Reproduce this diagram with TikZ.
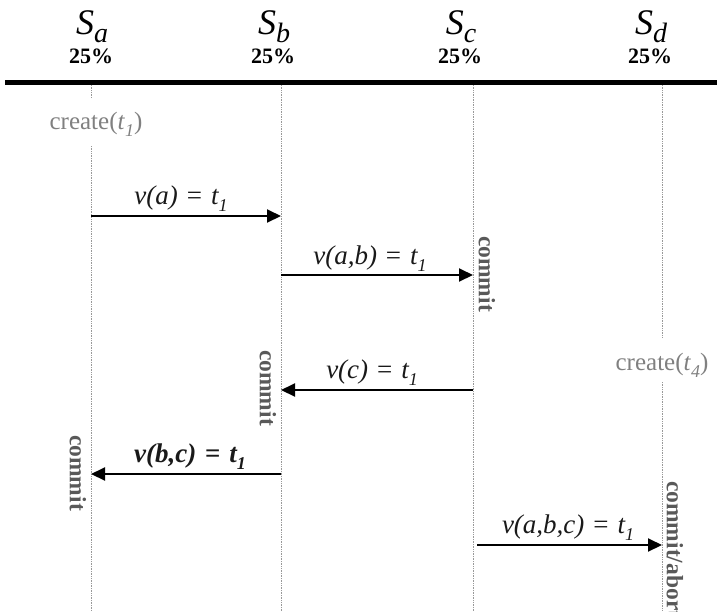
\documentclass[tikz,border=0pt]{standalone}
\usepackage{fontspec}
\setmainfont{Liberation Serif}
\usetikzlibrary{arrows.meta}
\newcommand{\tsub}[1]{\raisebox{-7pt}{\fontsize{18}{18}\selectfont\itshape #1}}
\newcommand{\hsub}[1]{\raisebox{-8pt}{\fontsize{28}{28}\selectfont\itshape #1}}
\newcommand{\eqs}{\hspace{0.33em}\textup{=}\hspace{0.33em}}
\begin{document}
\begin{tikzpicture}[x=1pt,y=-1pt,
  lifeline/.style={draw=gray!80, densely dotted, line width=0.7pt},
  msg/.style={draw=black, line width=2pt, -{Triangle[length=14pt,width=13pt]}},
  lbl/.style={font=\fontsize{27}{27}\selectfont\itshape, text=black!90, inner sep=0pt, anchor=base},
  hdr/.style={font=\fontsize{36}{36}\selectfont\itshape, inner sep=0pt, anchor=base},
  pct/.style={font=\fontsize{22}{22}\selectfont\bfseries, inner sep=0pt, anchor=base},
  crt/.style={font=\fontsize{25}{25}\selectfont, text=black!50, inner sep=0pt, anchor=base},
  cmt/.style={font=\fontsize{23.5}{23.5}\selectfont\bfseries, text=black!65, inner sep=0pt, rotate=-90}
]
\useasboundingbox (0,0) rectangle (717,611);

% headers
\node[hdr] (Ha) at (92,34) {S\hsub{a}};
\node[hdr] (Hb) at (274,34) {S\hsub{b}};
\node[hdr] (Hc) at (461,34) {S\hsub{c}};
\node[hdr] (Hd) at (651,34) {S\hsub{d}};
\node[pct] (Pa) at (91,63) {25\%};
\node[pct] (Pb) at (273,63) {25\%};
\node[pct] (Pc) at (460,63) {25\%};
\node[pct] (Pd) at (650,63) {25\%};

% heavy rule
\coordinate (RL) at (5,82);
\coordinate (RR) at (717,82);
\draw[line width=5pt] (RL) -- (RR);

% create labels
\node[crt] (Ca) at (96,129) {create(\textit{t}\tsub{1})};
\node[crt] (Cd) at (662,370) {create(\textit{t}\tsub{4})};

% lifelines
\coordinate (a0) at (91,85);  \coordinate (a1) at (91,98);
\coordinate (a2) at (91,146); \coordinate (aE) at (91,611);
\coordinate (b0) at (281,85); \coordinate (bE) at (281,611);
\coordinate (c0) at (473,85); \coordinate (cE) at (473,611);
\coordinate (d0) at (662,85); \coordinate (d1) at (662,338);
\coordinate (d2) at (662,382); \coordinate (dE) at (662,611);
\draw[lifeline] (a0) -- (a1);
\draw[lifeline] (a2) -- (aE);
\draw[lifeline] (b0) -- (bE);
\draw[lifeline] (c0) -- (cE);
\draw[lifeline] (d0) -- (d1);
\draw[lifeline] (d2) -- (dE);

% message endpoints
\coordinate (m1s) at (91,216);  \coordinate (m1e) at (281,216);
\coordinate (m2s) at (281,275); \coordinate (m2e) at (473,275);
\coordinate (m3s) at (473,390); \coordinate (m3e) at (281,390);
\coordinate (m4s) at (281,474); \coordinate (m4e) at (91,474);
\coordinate (m5s) at (477,545); \coordinate (m5e) at (662,545);

\draw[msg] (m1s) -- (m1e);
\draw[msg] (m2s) -- (m2e);
\draw[msg] (m3s) -- (m3e);
\draw[msg] (m4s) -- (m4e);
\draw[msg] (m5s) -- (m5e);

% message labels
\node[lbl] (L1) at (181,204) {v(a)\eqs t\tsub{1}};
\node[lbl] (L2) at (370,264) {v(a,b)\eqs t\tsub{1}};
\node[lbl] (L3) at (372,378) {v(c)\eqs t\tsub{1}};
\node[lbl,font=\fontsize{27}{27}\selectfont\bfseries\itshape] (L4) at (190,462) {v(b,c)\eqs t\tsub{1}};
\node[lbl] (L5) at (568,533) {v(a,b,c)\eqs t\tsub{1}};

% commit labels
\node[cmt] (K1) at (487,274) {commit};
\node[cmt] (K2) at (268,388) {commit};
\node[cmt] (K3) at (78,473) {commit};
\node[cmt, anchor=west] (K4) at (675,481) {commit/abort};
\end{tikzpicture}
\end{document}
